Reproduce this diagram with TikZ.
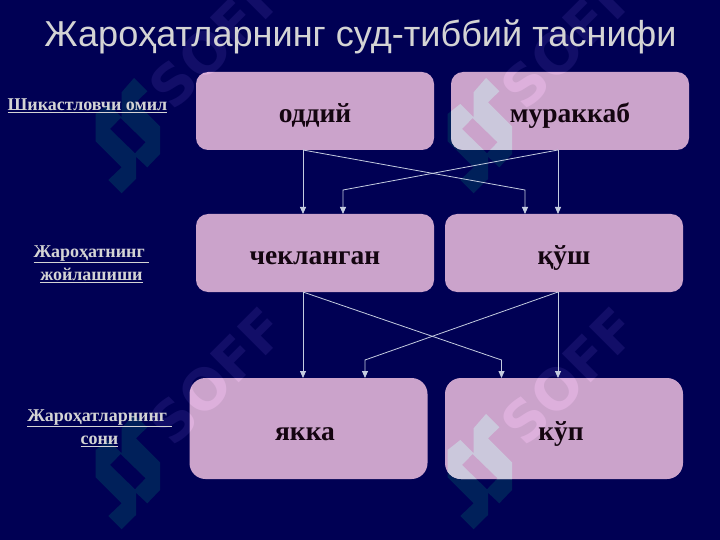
\documentclass[tikz,border=0pt]{standalone}
\usepackage{fontspec}
\setmainfont{Liberation Serif}
\newfontfamily\titlefont{Liberation Sans}
\newfontfamily\markfont{DejaVu Sans}
\usetikzlibrary{arrows.meta}
\definecolor{bgc}{HTML}{000054}
\definecolor{boxc}{HTML}{CBA3CB}
\definecolor{logodark}{HTML}{00205A}
\definecolor{logolight}{HTML}{CBC8DC}
\definecolor{softdark}{HTML}{120E68}
\definecolor{softlight}{HTML}{DDB0DC}
\definecolor{linec}{HTML}{C4CCE0}
\definecolor{labc}{HTML}{D4D4D4}
\definecolor{inkc}{HTML}{140510}
\newcommand\wmark[3]{%
  \foreach \ox/\oy/\i in {134/78/a,486/78/b,134/414/c,486/414/d}{%
    \begin{scope}[shift={(\ox,\oy)}]
      \fill[#1,even odd rule] (0,0)--(13.3,13.3)--(2,24.3)--(26,48.3)--(26,76)--(13.3,89.3)--(2,78.7)--(2,101)--(-12.4,115.3)--(-25.7,102)--(-12.4,89.3)--(-38.4,63.3)--(-38.4,36)--(-25.7,26)--(-12.4,39.3)--(-12.4,14.3)--cycle
        (-13.4,40)--(11.6,64.3)--(1,75.3)--(-24,51)--cycle;
      \node[softmark,text=#2] (soff#3\i) at (83.5,-38) {SOFF};
    \end{scope}}}
\tikzset{
  softmark/.style={rotate=45,font=\markfont\fontsize{56}{56}\selectfont\bfseries,inner sep=0pt},
  cardtext/.style={anchor=base,inner sep=0pt,text=inkc,font=\fontsize{27.5}{27.5}\selectfont\bfseries},
  card/.style={fill=boxc,rounded corners=12pt,inner sep=0pt,outer sep=0pt,minimum width=238pt,minimum height=78pt},
  bigcard/.style={card,rounded corners=16pt,minimum height=101pt},
  sidelabel/.style={align=center,text=labc,font=\fontsize{18}{23.5}\selectfont\bfseries,inner sep=0pt},
  link/.style={draw=linec,line width=0.8pt,-{Triangle[length=7pt,width=6pt]}},
}
\begin{document}
\begin{tikzpicture}[x=1pt,y=-1pt]
\useasboundingbox (0,0) rectangle (720,540);
\fill[bgc] (0,0) rectangle (720,540);
\wmark{logodark}{softdark}{x}
\node[card] (oddiy) at (315,111) {};
\node[card] (murak) at (570,111) {};
\node[card] (chek) at (315,253) {};
\node[card] (kush) at (564,253) {};
\node[bigcard] (yakka) at (308.5,428.5) {};
\node[bigcard] (kup) at (564,428.5) {};
\begin{scope}
  \clip[rounded corners=12pt] (oddiy.north west) rectangle (oddiy.south east)
    (murak.north west) rectangle (murak.south east)
    (chek.north west) rectangle (chek.south east)
    (kush.north west) rectangle (kush.south east);
  \wmark{logolight}{softlight}{y}
\end{scope}
\begin{scope}
  \clip[rounded corners=16pt] (yakka.north west) rectangle (yakka.south east)
    (kup.north west) rectangle (kup.south east);
  \wmark{logolight}{softlight}{z}
\end{scope}
\node[cardtext] (oddiyt) at (315,122.5) {оддий};
\node[cardtext] (murakt) at (570,122.5) {мураккаб};
\node[cardtext] (chekt) at (315,264) {чекланган};
\node[cardtext] (kusht) at (564,264) {қўш};
\node[cardtext] (yakkat) at (305,440) {якка};
\node[cardtext] (kupt) at (561,440) {кўп};
\node[text=labc,font=\titlefont\fontsize{36.1}{36}\selectfont,inner sep=0pt] (title) at (360.5,37) {Жароҳатларнинг суд-тиббий таснифи};
\node[sidelabel] (lab1) at (87.5,105.5) {\underline{Шикастловчи омил}};
\node[sidelabel] (lab2) at (91.5,264) {\underline{Жароҳатнинг\ }\\\underline{жойлашиши}};
\node[sidelabel] (lab3) at (99.5,428) {\underline{Жароҳатларнинг\ }\\\underline{сони}};
\draw[link] ([xshift=-12pt]oddiy.south) -- ([xshift=-12pt]chek.north);
\draw[link] ([xshift=-12pt]oddiy.south) -- ++(222,40) -- ([xshift=-39pt]kush.north);
\draw[link] ([xshift=-12pt]murak.south) -- ([xshift=-6pt]kush.north);
\draw[link] ([xshift=-12pt]murak.south) -- ++(-215,40) -- ([xshift=28pt]chek.north);
\draw[link] ([xshift=-12pt]chek.south) -- ([xshift=-5.5pt]yakka.north);
\draw[link] ([xshift=-12pt]chek.south) -- ++(198.5,68) -- ([xshift=-62.5pt]kup.north);
\draw[link] ([xshift=-6pt]kush.south) -- ([xshift=-6pt]kup.north);
\draw[link] ([xshift=-6pt]kush.south) -- ++(-193,68) -- ([xshift=56.5pt]yakka.north);
\end{tikzpicture}
\end{document}
